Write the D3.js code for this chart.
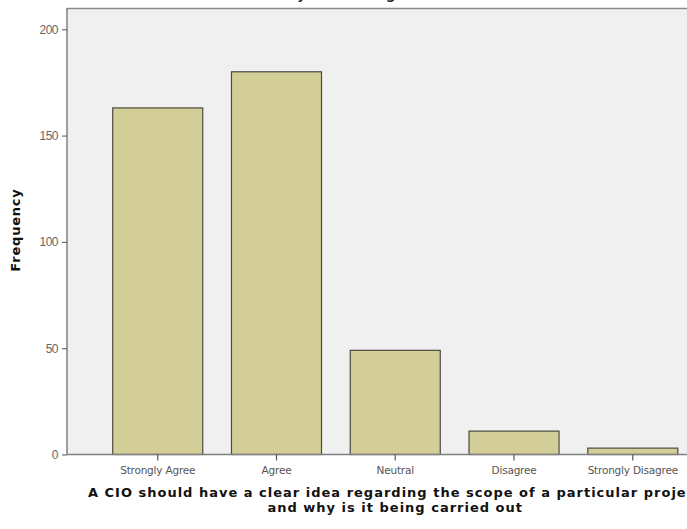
<!DOCTYPE html>
<html><head><meta charset="utf-8">
<script src="https://cdn.jsdelivr.net/npm/d3@7"></script>
<style>
body{margin:0;background:#fff;}
svg{display:block;}
</style></head>
<body>
<svg id="chart" width="687" height="529"></svg>
<script>
const categories = ["Strongly Agree","Agree","Neutral","Disagree","Strongly Disagree"];
const frequencies = [163, 180, 49, 11, 3];
const yTicks = [0, 50, 100, 150, 200];
const titleLines = ["A CIO should have a clear idea regarding the scope of a particular project","and why is it being carried out"];
const yLabel = "Frequency";

(function () {
const svg = d3.select("#chart");
const pLeft = 67, pRight = 723.5, pTop = 8, pBottom = 454.5;

const x = d3.scaleBand().domain(categories).range([pLeft, pRight]).paddingInner(0.242).paddingOuter(0.385);
const y = d3.scaleLinear().domain([0, 210]).range([pBottom, pTop]);

svg.append("rect").attr("x", pLeft).attr("y", pTop).attr("width", pRight - pLeft).attr("height", pBottom - pTop)
  .attr("fill", "#f0f0f0");
svg.append("line").attr("x1", pLeft).attr("x2", pRight).attr("y1", pTop + 0.5).attr("y2", pTop + 0.5)
  .attr("stroke", "#8a8a8a").attr("stroke-width", 1.5);

// chart title (mostly cut off at top, as in the reference)
svg.append("text").attr("x", 366).attr("y", -1).attr("text-anchor", "middle")
  .attr("font-family", "DejaVu Sans").attr("font-weight", "bold").attr("font-size", 13)
  .attr("letter-spacing", 1).attr("fill", "#222")
  .text(titleLines[1]);

svg.append("g").selectAll("rect").data(categories).join("rect")
  .attr("x", d => x(d)).attr("width", x.bandwidth())
  .attr("y", (d, i) => y(frequencies[i])).attr("height", (d, i) => y(0) - y(frequencies[i]))
  .attr("fill", "#d3ce97").attr("stroke", "#4a4a40").attr("stroke-width", 1.2);

const yAxis = svg.append("g").attr("transform", `translate(${pLeft},0)`)
  .call(d3.axisLeft(y).tickValues(yTicks).tickSize(5).tickPadding(4).tickFormat(d3.format("d")));
yAxis.select(".domain").attr("d", `M0,${pTop}V${pBottom}`).attr("stroke", "#808080").attr("stroke-width", 1.5);
yAxis.selectAll(".tick line").attr("stroke", "#707070").attr("stroke-width", 1.2);
yAxis.selectAll(".tick text").attr("font-family", "Liberation Sans, Arial, sans-serif").attr("font-size", 12)
  .attr("letter-spacing", -0.5).attr("fill", "#666");

const xAxis = svg.append("g").attr("transform", `translate(0,${pBottom})`)
  .call(d3.axisBottom(x).tickSize(6).tickPadding(6));
xAxis.select(".domain").attr("d", `M${pLeft},0H${pRight}`).attr("stroke", "#808080").attr("stroke-width", 1.5);
xAxis.selectAll(".tick line").attr("stroke", "#555").attr("stroke-width", 1.2);
xAxis.selectAll(".tick text").attr("font-family", "DejaVu Sans, sans-serif").attr("font-size", 10.5)
  .attr("fill", "#555").attr("letter-spacing", -0.2);

svg.append("text").attr("transform", `translate(20,230) rotate(-90)`)
  .attr("text-anchor", "middle").attr("font-family", "DejaVu Sans").attr("font-weight", "bold")
  .attr("font-size", 13).attr("letter-spacing", 0.8).attr("fill", "#111").text(yLabel);

const cx = (pLeft + pRight) / 2;
svg.append("text").attr("x", cx).attr("y", 496.5).attr("text-anchor", "middle")
  .attr("font-family", "DejaVu Sans").attr("font-weight", "bold").attr("font-size", 13)
  .attr("letter-spacing", 1).attr("fill", "#111")
  .text(titleLines[0]);
svg.append("text").attr("x", cx).attr("y", 511.5).attr("text-anchor", "middle")
  .attr("font-family", "DejaVu Sans").attr("font-weight", "bold").attr("font-size", 13)
  .attr("letter-spacing", 1).attr("fill", "#111")
  .text(titleLines[1]);
})();
</script>
</body></html>
